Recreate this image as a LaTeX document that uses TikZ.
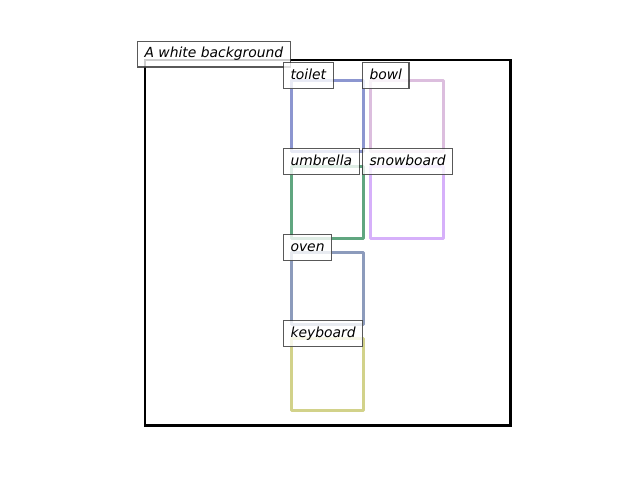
\documentclass[tikz,border=0pt]{standalone}
\usepackage{fontspec}
\setmainfont{DejaVu Sans}
\definecolor{ctoilet}{RGB}{140,150,208}
\definecolor{cbowl}{RGB}{220,190,222}
\definecolor{cumbrella}{RGB}{96,166,128}
\definecolor{csnow}{RGB}{214,176,250}
\definecolor{coven}{RGB}{140,155,188}
\definecolor{ckey}{RGB}{210,210,138}
\definecolor{cframe}{RGB}{60,60,60}
\begin{document}
\begin{tikzpicture}[x=0.72pt,y=-0.72pt,
  bbox/.style={draw,line width=2pt,line join=round,rectangle,inner sep=0pt,anchor=north west},
  lbl/.style={draw=cframe,draw opacity=0.85,line width=0.8pt,fill=white,fill opacity=0.8,text opacity=1,
    anchor=north west,inner xsep=5pt,inner ysep=0pt,minimum height=18.7pt,
    font=\fontsize{10}{12}\selectfont\itshape,text height=7.6pt,text depth=2.2pt}]
\useasboundingbox (0,0) rectangle (640,480);
\node[draw=black,line width=1.5pt,rectangle,inner sep=0pt,minimum width=263.5pt,minimum height=263.5pt,anchor=north west] (bg) at (143.5,58.5) {};
\node[bbox,draw=ctoilet,minimum width=51.8pt,minimum height=51.1pt] (toiletbox) at (290,79) {};
\node[bbox,draw=cbowl,minimum width=52.5pt,minimum height=51.1pt] (bowlbox) at (369,79) {};
\node[bbox,draw=cumbrella,minimum width=51.8pt,minimum height=51.8pt] (umbrellabox) at (290,165) {};
\node[bbox,draw=csnow,minimum width=52.5pt,minimum height=51.8pt] (snowbox) at (369,165) {};
\node[bbox,draw=coven,minimum width=51.8pt,minimum height=51.8pt] (ovenbox) at (290,251) {};
\node[bbox,draw=ckey,minimum width=51.8pt,minimum height=51.8pt] (keybox) at (290,337) {};
\node[lbl] (bglbl) at (137,40.5) {A white background};
\node[lbl] (toiletlbl) at (283,62) {toilet};
\node[lbl] (bowllbl) at (362,62) {bowl};
\node[lbl] (umbrellalbl) at (283,148) {umbrella};
\node[lbl] (snowlbl) at (362,148) {snowboard};
\node[lbl] (ovenlbl) at (283,234) {oven};
\node[lbl] (keylbl) at (283,320) {keyboard};
\end{tikzpicture}
\end{document}
